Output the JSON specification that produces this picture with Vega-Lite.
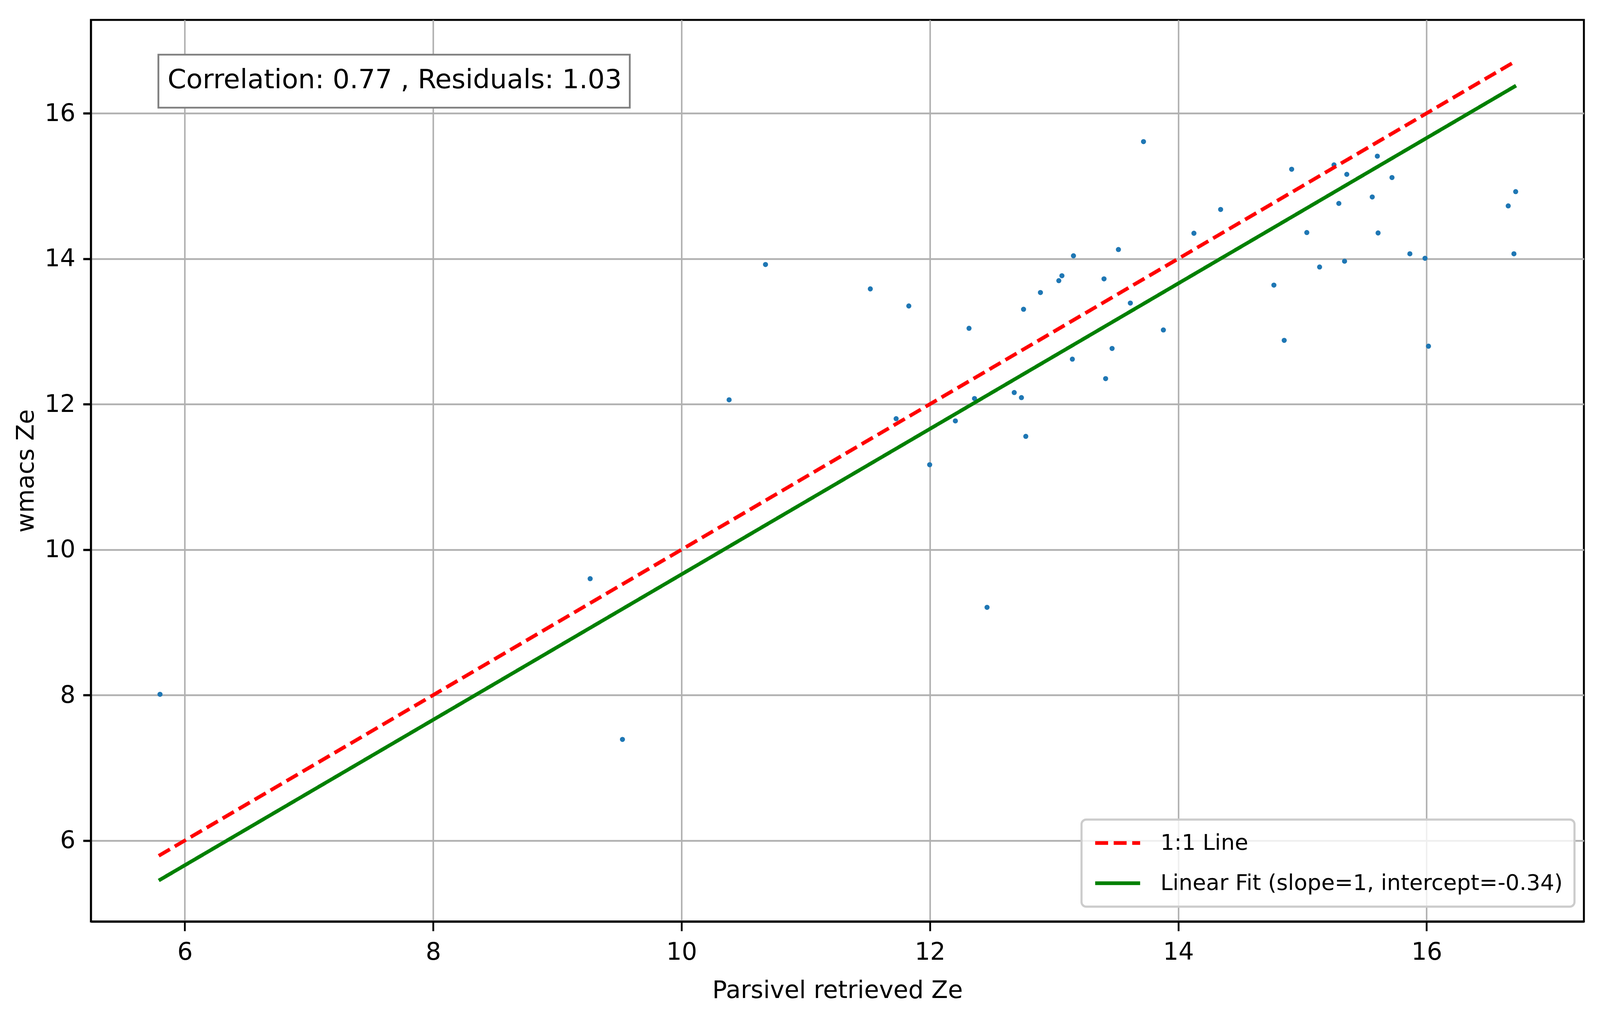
{
  "$schema": "https://vega.github.io/schema/vega-lite/v6.json",
  "usermeta": {"embedOptions": {"actions": false}},
  "width": 3822.1,
  "height": 2309,
  "autosize": {"type": "none"},
  "padding": {"left": 232.7, "top": 51, "right": 41.2, "bottom": 260},
  "background": "white",
  "datasets": {
    "points": [
      {"parsivel": 11.52, "wmacs": 13.585},
      {"parsivel": 11.83, "wmacs": 13.35},
      {"parsivel": 13.72, "wmacs": 15.61},
      {"parsivel": 13.156, "wmacs": 14.04},
      {"parsivel": 13.518, "wmacs": 14.126},
      {"parsivel": 13.063, "wmacs": 13.766},
      {"parsivel": 13.038, "wmacs": 13.698},
      {"parsivel": 13.402, "wmacs": 13.723},
      {"parsivel": 12.89, "wmacs": 13.535},
      {"parsivel": 12.754, "wmacs": 13.305},
      {"parsivel": 13.614, "wmacs": 13.39},
      {"parsivel": 12.315, "wmacs": 13.043},
      {"parsivel": 13.88, "wmacs": 13.02},
      {"parsivel": 13.467, "wmacs": 12.766},
      {"parsivel": 13.147, "wmacs": 12.619},
      {"parsivel": 13.415, "wmacs": 12.351},
      {"parsivel": 12.679, "wmacs": 12.16},
      {"parsivel": 12.737, "wmacs": 12.09},
      {"parsivel": 12.359, "wmacs": 12.077},
      {"parsivel": 11.728, "wmacs": 11.8},
      {"parsivel": 12.205, "wmacs": 11.77},
      {"parsivel": 12.772, "wmacs": 11.557},
      {"parsivel": 11.998, "wmacs": 11.167},
      {"parsivel": 12.46, "wmacs": 9.206},
      {"parsivel": 14.126, "wmacs": 14.35},
      {"parsivel": 14.341, "wmacs": 14.677},
      {"parsivel": 14.913, "wmacs": 15.23},
      {"parsivel": 15.254, "wmacs": 15.29},
      {"parsivel": 15.357, "wmacs": 15.16},
      {"parsivel": 15.603, "wmacs": 15.41},
      {"parsivel": 15.721, "wmacs": 15.116},
      {"parsivel": 15.293, "wmacs": 14.76},
      {"parsivel": 15.562, "wmacs": 14.849},
      {"parsivel": 15.035, "wmacs": 14.36},
      {"parsivel": 15.609, "wmacs": 14.354},
      {"parsivel": 15.865, "wmacs": 14.068},
      {"parsivel": 15.987, "wmacs": 14.006},
      {"parsivel": 15.138, "wmacs": 13.886},
      {"parsivel": 15.339, "wmacs": 13.966},
      {"parsivel": 14.77, "wmacs": 13.637},
      {"parsivel": 14.853, "wmacs": 12.877},
      {"parsivel": 16.015, "wmacs": 12.797},
      {"parsivel": 16.717, "wmacs": 14.922},
      {"parsivel": 16.657, "wmacs": 14.726},
      {"parsivel": 16.703, "wmacs": 14.068},
      {"parsivel": 5.8, "wmacs": 8.01},
      {"parsivel": 9.264, "wmacs": 9.6},
      {"parsivel": 9.524, "wmacs": 7.39},
      {"parsivel": 10.383, "wmacs": 12.06},
      {"parsivel": 10.676, "wmacs": 13.92}
    ],
    "lines": [
      {"series": "1:1 Line", "parsivel": 5.79, "wmacs": 5.79},
      {"series": "1:1 Line", "parsivel": 16.72, "wmacs": 16.72},
      {"series": "Linear Fit (slope=1, intercept=-0.34)", "parsivel": 5.79, "wmacs": 5.45},
      {"series": "Linear Fit (slope=1, intercept=-0.34)", "parsivel": 16.72, "wmacs": 16.38}
    ],
    "annotation": [
      {"label": "Correlation: 0.77 , Residuals: 1.03"}
    ]
  },
  "layer": [
    {
      "data": {"name": "points"},
      "mark": {"type": "circle", "size": 170, "color": "#1f77b4", "opacity": 1},
      "encoding": {
        "x": {
          "field": "parsivel", "type": "quantitative",
          "scale": {"domain": [5.2435, 17.2665], "nice": false, "zero": false},
          "axis": {
            "values": [6, 8, 10, 12, 14, 16], "format": "d", "title": "Parsivel retrieved Ze",
            "titlePadding": 37, "tickSize": 24.3, "tickWidth": 4.6, "domainWidth": 5.6,
            "gridWidth": 3.9, "labelPadding": 24
          }
        },
        "y": {
          "field": "wmacs", "type": "quantitative",
          "scale": {"domain": [4.8865, 17.2835], "nice": false, "zero": false},
          "axis": {
            "values": [6, 8, 10, 12, 14, 16], "format": "d", "title": "wmacs Ze",
            "titlePadding": 15, "tickSize": 20, "tickWidth": 5.6, "domainWidth": 4.6,
            "gridWidth": 4.7, "labelPadding": 20
          }
        }
      }
    },
    {
      "data": {"name": "lines"},
      "mark": {"type": "line", "strokeWidth": 9.4, "strokeCap": "butt"},
      "encoding": {
        "x": {"field": "parsivel", "type": "quantitative"},
        "y": {"field": "wmacs", "type": "quantitative"},
        "color": {
          "field": "series", "type": "nominal",
          "scale": {"domain": ["1:1 Line", "Linear Fit (slope=1, intercept=-0.34)"], "range": ["#ff0000", "#008000"]},
          "legend": {"title": null, "orient": "none", "legendX": 2536, "legendY": 2048}
        },
        "strokeDash": {
          "field": "series", "type": "nominal",
          "scale": {"domain": ["1:1 Line", "Linear Fit (slope=1, intercept=-0.34)"], "range": [[33.1, 14.3], [1, 0]]},
          "legend": {"title": null, "orient": "none", "legendX": 2536, "legendY": 2048}
        }
      }
    },
    {
      "data": {"name": "annotation"},
      "mark": {"type": "rect", "fill": "white", "stroke": "#808080", "strokeWidth": 4.6},
      "encoding": {
        "x": {"datum": 5.787, "type": "quantitative"},
        "x2": {"datum": 9.583},
        "y": {"datum": 16.806, "type": "quantitative"},
        "y2": {"datum": 16.077}
      }
    },
    {
      "data": {"name": "annotation"},
      "mark": {"type": "text", "font": "DejaVu Sans", "fontSize": 68.5, "align": "left", "baseline": "alphabetic", "color": "black"},
      "encoding": {
        "text": {"field": "label", "type": "nominal"},
        "x": {"datum": 5.861, "type": "quantitative"},
        "y": {"datum": 16.345, "type": "quantitative"}
      }
    }
  ],
  "config": {
    "view": {"stroke": "black", "strokeWidth": 5},
    "axis": {
      "labelFont": "DejaVu Sans", "titleFont": "DejaVu Sans",
      "labelFontSize": 62, "titleFontSize": 62, "titleFontWeight": "normal",
      "labelColor": "black", "titleColor": "black",
      "tickColor": "black", "domainColor": "black",
      "gridColor": "#b0b0b0", "grid": true,
      "labelFlush": false, "labelOverlap": false
    },
    "legend": {
      "symbolType": "stroke", "symbolStrokeWidth": 9.4, "symbolSize": 13250,
      "labelFont": "DejaVu Sans", "labelFontSize": 56, "labelColor": "black",
      "labelOffset": 47, "padding": 30, "rowPadding": 43, "clipHeight": 60,
      "fillColor": "rgba(255,255,255,0.8)", "strokeColor": "#cccccc", "strokeWidth": 5.4,
      "cornerRadius": 12, "labelLimit": 3000
    }
  }
}
